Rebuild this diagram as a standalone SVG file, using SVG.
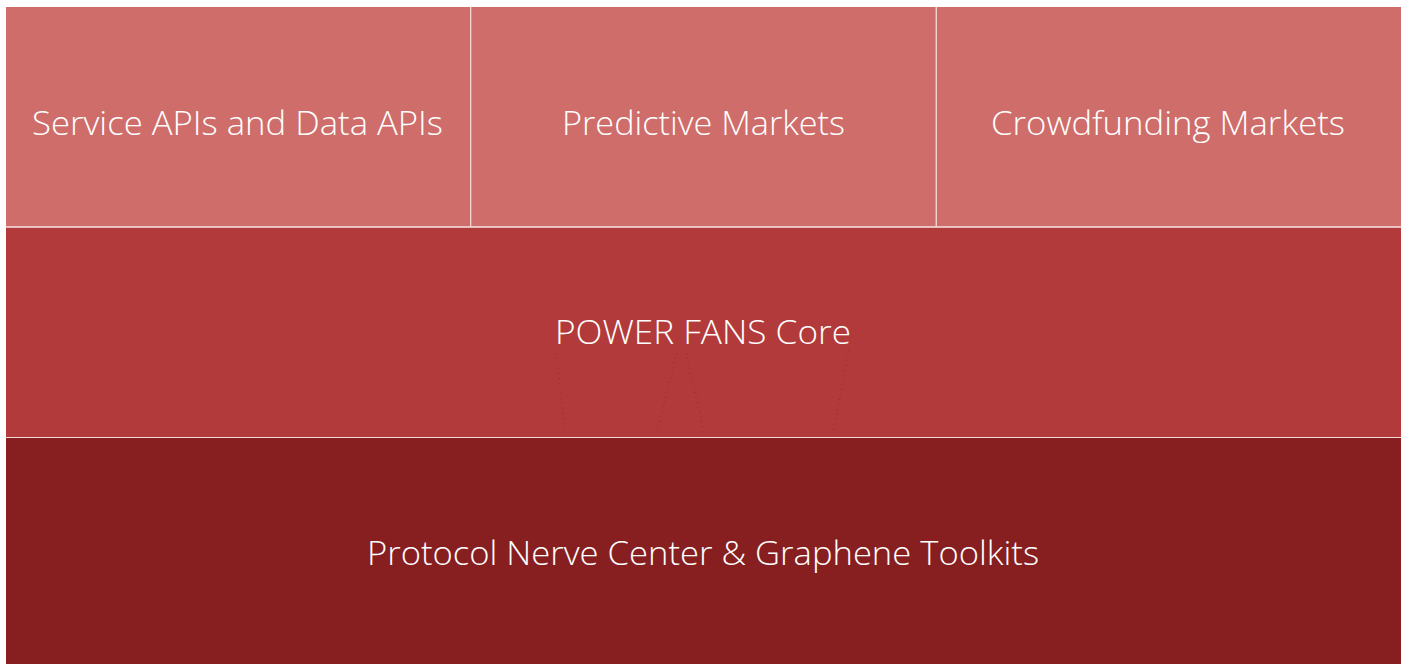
<svg xmlns="http://www.w3.org/2000/svg" width="1405" height="664" viewBox="0 0 1405 664">
  <style>
    .lbl { font-family: "Open Sans", "Noto Sans", "Liberation Sans", sans-serif; font-weight: 300; font-size: 33px; fill: #ffffff; text-anchor: middle; }
    .top { fill: #cf6d6b; }
    .mid { fill: #b33a3a; }
    .bot { fill: #871f21; }
    .sep { stroke: #f3d9d8; stroke-width: 1.2; }
    .dot { stroke: #8a2224; stroke-width: 1; stroke-dasharray: 1 4; fill: none; opacity: 0.7; }
  </style>
  <rect width="1405" height="664" fill="#ffffff"/>
  <g id="service-apis">
    <rect class="top" x="6" y="7" width="464.5" height="219.5"/>
    <text class="lbl" x="237.5" y="135" textLength="411" lengthAdjust="spacingAndGlyphs">Service APIs and Data APIs</text>
  </g>
  <g id="predictive-markets">
    <rect class="top" x="471" y="7" width="465" height="219.5"/>
    <text class="lbl" x="703.5" y="135" textLength="283" lengthAdjust="spacingAndGlyphs">Predictive Markets</text>
  </g>
  <g id="crowdfunding-markets">
    <rect class="top" x="936.5" y="7" width="464.5" height="219.5"/>
    <text class="lbl" x="1168" y="135" textLength="354" lengthAdjust="spacingAndGlyphs">Crowdfunding Markets</text>
  </g>
  <g id="core">
    <rect class="mid" x="6" y="227.5" width="1395" height="209.5"/>
    <text class="lbl" x="703" y="344" textLength="296" lengthAdjust="spacingAndGlyphs">POWER FANS Core</text>
  </g>
  <g id="protocol">
    <rect class="bot" x="6" y="438" width="1395" height="226"/>
    <text class="lbl" x="703" y="565" textLength="672" lengthAdjust="spacingAndGlyphs">Protocol Nerve Center &amp; Graphene Toolkits</text>
  </g>
  <g id="connectors">
    <line class="sep" x1="470.7" y1="7" x2="470.7" y2="226.5"/>
    <line class="sep" x1="936.2" y1="7" x2="936.2" y2="226.5"/>
    <line class="sep" x1="6" y1="227" x2="1401" y2="227"/>
    <line class="sep" x1="6" y1="437.5" x2="1401" y2="437.5"/>
    <line class="dot" x1="556" y1="353" x2="565" y2="431"/>
    <line class="dot" x1="677" y1="353" x2="657" y2="431"/>
    <line class="dot" x1="686" y1="353" x2="704" y2="431"/>
    <line class="dot" x1="849" y1="350" x2="833" y2="433"/>
  </g>
</svg>
